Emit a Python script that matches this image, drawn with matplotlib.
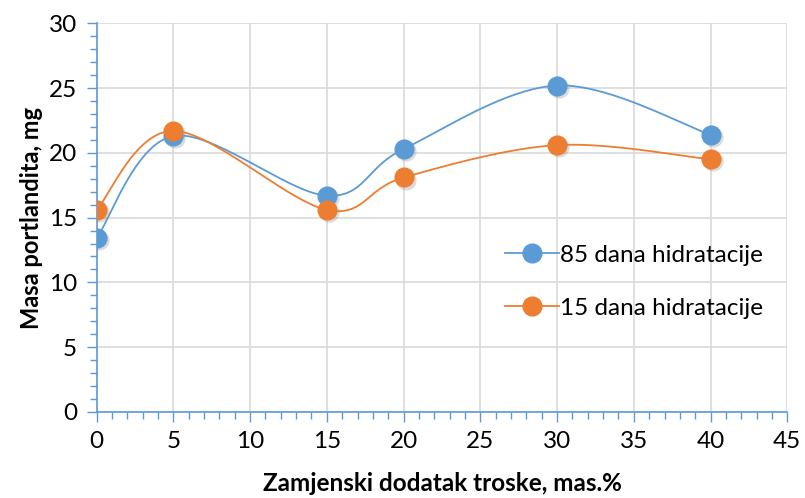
import numpy as np
import matplotlib
matplotlib.use("Agg")
import matplotlib.pyplot as plt
from matplotlib.ticker import MultipleLocator
from matplotlib.transforms import ScaledTranslation

plt.rcParams['font.family'] = ['Lato', 'DejaVu Sans']

dodatak = [0, 5, 15, 20, 30, 40]
dana_85 = [13.4, 21.3, 16.7, 20.3, 25.2, 21.4]
dana_15 = [15.6, 21.7, 15.6, 18.1, 20.6, 19.5]
labels = ['85 dana hidratacije', '15 dana hidratacije']
colors = ['#5B9BD5', '#ED7D31']


def smooth(x, y, xr=45.0, yr=30.0, n=40):
    # Excel-like smoothed line: cubic bezier, control points from neighbours
    p = np.column_stack([np.asarray(x, float) / xr, np.asarray(y, float) / yr * 0.56])
    out = []
    for i in range(len(p) - 1):
        p0 = p[i - 1] if i > 0 else p[i]
        p1, p2 = p[i], p[i + 1]
        p3 = p[i + 2] if i + 2 < len(p) else p[i + 1]
        c1 = p1 + (p2 - p0) / 6
        c2 = p2 - (p3 - p1) / 6
        t = np.linspace(0, 1, n)[:, None]
        seg = (1 - t) ** 3 * p1 + 3 * (1 - t) ** 2 * t * c1 + 3 * (1 - t) * t ** 2 * c2 + t ** 3 * p2
        out.append(seg if i == 0 else seg[1:])
    s = np.vstack(out)
    return s[:, 0] * xr, s[:, 1] / 0.56 * yr


fig = plt.figure(figsize=(8.05, 4.98), dpi=100)
ax = fig.add_axes([0.120, 0.173, 0.858, 0.780])
shadow = ax.transData + ScaledTranslation(1.5 / 72, -1.5 / 72, fig.dpi_scale_trans)

for ys, c, lab in zip([dana_85, dana_15], colors, labels):
    sx, sy = smooth(dodatak, ys)
    ax.plot(sx, sy, color=c, lw=1.3, zorder=3)
    ax.plot(dodatak, ys, 'o', color='#999999', alpha=0.35, ms=14.5,
            mec='none', zorder=3, transform=shadow)
    ax.plot(dodatak, ys, 'o', color=c, ms=13.5, mec=c, zorder=4)
    ax.plot([], [], '-o', color=c, lw=1.3, ms=13.5, label=lab)

ax.set_xlim(0, 45)
ax.set_ylim(0, 30)
ax.xaxis.set_major_locator(MultipleLocator(5))
ax.yaxis.set_major_locator(MultipleLocator(5))
ax.xaxis.set_minor_locator(MultipleLocator(1))
ax.yaxis.set_minor_locator(MultipleLocator(1))
ax.grid(True, which='major', color='#D9D9D9', lw=1.2, zorder=0)
ax.set_axisbelow(True)
for s in ['top', 'right']:
    ax.spines[s].set_visible(False)
for s in ['left', 'bottom']:
    ax.spines[s].set_color('#5B9BD5')
    ax.spines[s].set_linewidth(1.2)
ax.tick_params(which='major', length=7, width=1, color='#5B9BD5', labelsize=17.5, pad=7)
ax.tick_params(which='minor', length=5, width=1, color='#5B9BD5')

ax.set_ylabel('Masa portlandita, mg', fontsize=17, fontweight='bold', labelpad=4)
ax.set_xlabel('Zamjenski dodatak troske, mas.%', fontsize=17.5, fontweight='bold', labelpad=14)

ax.legend(loc='center left', bbox_to_anchor=(0.56, 0.335), frameon=False,
          fontsize=17.5, handlelength=2.2, handletextpad=0.05, labelspacing=1.3)

fig.savefig('out.png', dpi=100)
